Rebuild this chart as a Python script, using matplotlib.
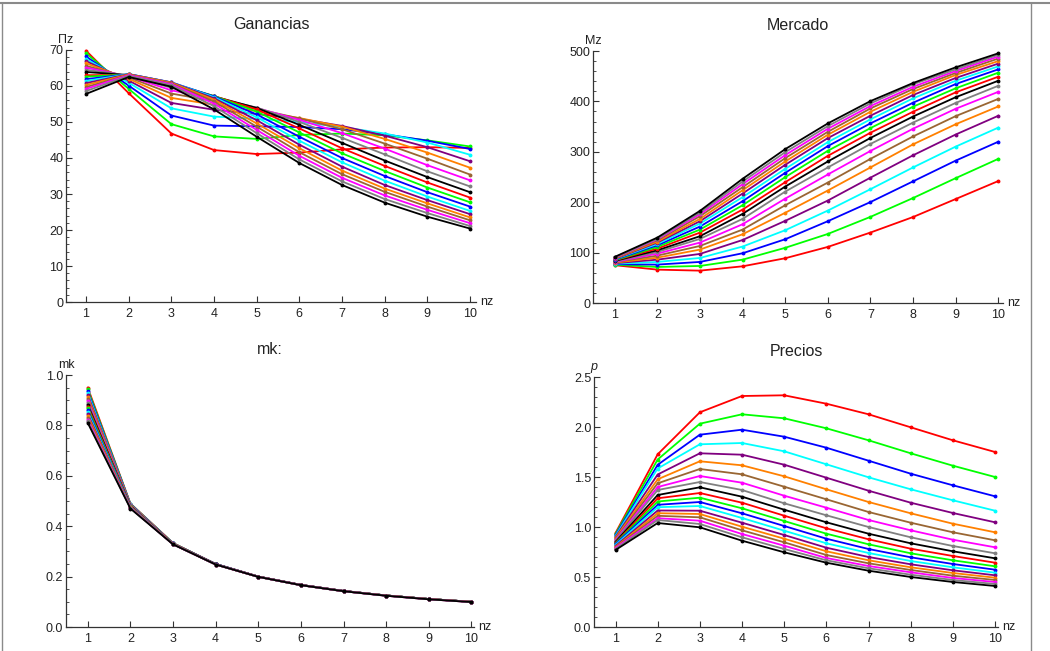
import numpy as np
import matplotlib
matplotlib.use("Agg")
import matplotlib.pyplot as plt
from matplotlib.ticker import MultipleLocator
from matplotlib.lines import Line2D

plt.rcParams['font.family'] = ['Liberation Sans', 'DejaVu Sans']

nz = [1, 2, 3, 4, 5, 6, 7, 8, 9, 10]

colors = ['#ff0000', '#00ff00', '#0000ff', '#00ffff', '#800080',
          '#ff8000', '#996633', '#ff00ff', '#808080', '#000000']

# Ganancias: one row per series (20 series), values for nz = 1..10
ganancias = [
    [69.8, 58.0, 46.8, 42.2, 41.1, 41.5, 42.4, 42.9, 43.0, 42.8],
    [69.1, 59.2, 49.4, 46.0, 45.3, 46.4, 46.8, 46.3, 44.9, 43.2],
    [68.2, 60.1, 51.8, 49.0, 48.8, 48.6, 48.0, 46.6, 44.8, 42.5],
    [67.5, 60.9, 53.8, 51.5, 50.9, 50.0, 48.6, 46.8, 44.3, 40.9],
    [66.9, 61.5, 55.3, 53.4, 52.2, 50.9, 48.9, 46.2, 43.0, 39.1],
    [66.3, 62.0, 56.7, 54.8, 53.0, 51.1, 48.7, 45.3, 41.5, 37.3],
    [65.6, 62.4, 57.9, 55.8, 53.6, 51.0, 48.0, 44.0, 39.8, 35.4],
    [65.1, 62.7, 58.8, 56.4, 53.9, 50.6, 46.9, 42.6, 38.0, 33.8],
    [64.5, 62.9, 59.5, 56.8, 54.0, 50.0, 45.6, 41.0, 36.3, 32.1],
    [63.9, 63.0, 60.1, 57.1, 53.9, 49.2, 44.2, 39.3, 34.7, 30.5],
    [63.0, 63.1, 60.5, 57.2, 53.5, 48.2, 42.7, 37.8, 33.2, 29.0],
    [62.6, 63.2, 60.8, 57.2, 52.9, 47.1, 41.3, 36.4, 31.8, 27.7],
    [61.9, 63.3, 61.0, 57.1, 52.1, 45.9, 40.0, 35.0, 30.5, 26.5],
    [61.4, 63.3, 61.0, 56.9, 51.3, 44.8, 38.8, 33.7, 29.3, 25.3],
    [60.8, 63.3, 61.0, 56.6, 50.5, 43.7, 37.6, 32.5, 28.3, 24.4],
    [60.3, 63.2, 60.9, 56.2, 49.6, 42.7, 36.5, 31.5, 27.4, 23.5],
    [59.7, 63.1, 60.7, 55.7, 48.7, 41.6, 35.5, 30.6, 26.5, 22.7],
    [59.2, 63.0, 60.5, 55.1, 47.8, 40.6, 34.5, 29.6, 25.6, 21.9],
    [58.6, 62.8, 60.2, 54.4, 46.9, 39.6, 33.5, 28.6, 24.7, 21.1],
    [57.8, 62.5, 59.8, 53.5, 45.9, 38.6, 32.5, 27.6, 23.7, 20.4],
]

# Mercado: one row per nz (1..10), values for the 20 series
mercado_by_nz = [
    [75, 76, 77, 78, 79, 80, 81, 81.5, 82.5, 83.5, 84.5, 85, 86, 87, 87.5, 88.5, 89, 90, 90.5, 91.5],
    [66.2, 71.5, 76.2, 81.5, 86, 90, 94, 98, 101.3, 104.6, 108, 111.3, 114.6, 117.2, 119.9, 121.9, 124.5, 126.5, 127.8, 129.8],
    [64.2, 73.5, 81.5, 89.4, 97.4, 106, 113.2, 119.9, 127.2, 132.5, 139.7, 145.7, 151.7, 157.6, 162.3, 166.9, 172.2, 176.2, 179.5, 182.8],
    [72.8, 86, 98.7, 112, 125, 136.4, 145.7, 156.3, 166.9, 176.8, 185.4, 194, 202, 210, 217.2, 223.8, 229.8, 235.8, 241, 246.4],
    [88.8, 109.5, 126.5, 144.4, 163, 179, 194, 207, 221, 231, 239.7, 249.7, 258.3, 266.2, 274.2, 280.8, 287.4, 293.4, 299.3, 305.3],
    [111.3, 137, 162.3, 183.4, 203.3, 223.2, 239, 255, 268.9, 280.8, 292, 302, 311.3, 319.2, 327.2, 333.8, 339.7, 345.7, 351, 356.3],
    [139.8, 170.9, 200.3, 225.8, 248.7, 269, 286, 301.7, 315.6, 327.5, 337.8, 347, 356.4, 364.4, 371.6, 379.5, 386, 390.8, 396, 400.6],
    [170.6, 208.3, 241.4, 269, 293.1, 314.8, 330.5, 345.8, 358, 370, 379.5, 389.5, 397.4, 406, 412.7, 419, 424.6, 429, 434, 436.5],
    [206.3, 247.7, 282.5, 310.3, 334.3, 354.7, 370.8, 385.4, 397, 408.3, 418, 426, 434.5, 441, 446.5, 452.4, 456.4, 460.3, 463.7, 467.6],
    [242, 286, 320, 348, 371.5, 390, 405, 419, 431, 441, 449, 457, 463.6, 469.5, 475, 480, 485, 489, 492.5, 495.4],
]

# mk: one row per nz (1..10), values for the 20 series
mk_by_nz = [
    [0.95, 0.943, 0.935, 0.928, 0.92, 0.913, 0.905, 0.898, 0.89, 0.882, 0.875, 0.868, 0.86, 0.853, 0.845, 0.838, 0.83, 0.823, 0.816, 0.81],
    [0.49, 0.489, 0.488, 0.487, 0.486, 0.485, 0.484, 0.483, 0.482, 0.481, 0.48, 0.479, 0.478, 0.477, 0.476, 0.475, 0.474, 0.473, 0.472, 0.47],
    [0.333, 0.333, 0.332, 0.332, 0.332, 0.331, 0.331, 0.331, 0.330, 0.330, 0.330, 0.330, 0.329, 0.329, 0.329, 0.329, 0.328, 0.328, 0.328, 0.328],
    [0.250, 0.250, 0.250, 0.250, 0.250, 0.249, 0.249, 0.249, 0.249, 0.249, 0.249, 0.249, 0.249, 0.248, 0.248, 0.248, 0.248, 0.248, 0.248, 0.248],
    [0.200, 0.200, 0.200, 0.200, 0.200, 0.200, 0.200, 0.200, 0.200, 0.200, 0.199, 0.199, 0.199, 0.199, 0.199, 0.199, 0.199, 0.199, 0.199, 0.199],
    [0.167, 0.167, 0.167, 0.167, 0.167, 0.167, 0.167, 0.167, 0.167, 0.167, 0.166, 0.166, 0.166, 0.166, 0.166, 0.166, 0.166, 0.166, 0.166, 0.166],
    [0.143, 0.143, 0.143, 0.143, 0.143, 0.143, 0.143, 0.143, 0.143, 0.143, 0.142, 0.142, 0.142, 0.142, 0.142, 0.142, 0.142, 0.142, 0.142, 0.142],
    [0.125, 0.125, 0.125, 0.125, 0.125, 0.125, 0.125, 0.125, 0.125, 0.125, 0.125, 0.125, 0.125, 0.125, 0.125, 0.125, 0.124, 0.124, 0.124, 0.124],
    [0.111, 0.111, 0.111, 0.111, 0.111, 0.111, 0.111, 0.111, 0.111, 0.111, 0.111, 0.111, 0.111, 0.111, 0.111, 0.111, 0.110, 0.110, 0.110, 0.110],
    [0.100, 0.100, 0.100, 0.100, 0.100, 0.100, 0.100, 0.100, 0.100, 0.100, 0.100, 0.100, 0.100, 0.100, 0.100, 0.100, 0.099, 0.099, 0.099, 0.099],
]

# Precios: one row per nz (1..10), values for the 20 series
precios_by_nz = [
    [0.94, 0.93, 0.92, 0.91, 0.90, 0.89, 0.88, 0.87, 0.86, 0.85, 0.84, 0.835, 0.83, 0.82, 0.81, 0.80, 0.795, 0.79, 0.78, 0.77],
    [1.727, 1.675, 1.622, 1.585, 1.525, 1.477, 1.437, 1.40, 1.37, 1.32, 1.287, 1.255, 1.222, 1.198, 1.165, 1.138, 1.112, 1.088, 1.07, 1.04],
    [2.147, 2.033, 1.923, 1.827, 1.737, 1.657, 1.58, 1.51, 1.45, 1.397, 1.34, 1.293, 1.25, 1.21, 1.163, 1.13, 1.097, 1.063, 1.03, 0.997],
    [2.31, 2.127, 1.973, 1.84, 1.723, 1.617, 1.527, 1.443, 1.37, 1.303, 1.243, 1.187, 1.137, 1.09, 1.043, 1.003, 0.967, 0.93, 0.897, 0.863],
    [2.317, 2.087, 1.903, 1.757, 1.623, 1.507, 1.403, 1.313, 1.237, 1.173, 1.113, 1.06, 1.01, 0.963, 0.92, 0.883, 0.847, 0.813, 0.78, 0.747],
    [2.233, 1.987, 1.793, 1.627, 1.493, 1.377, 1.277, 1.193, 1.117, 1.047, 0.987, 0.933, 0.883, 0.837, 0.793, 0.757, 0.72, 0.69, 0.667, 0.643],
    [2.127, 1.867, 1.663, 1.497, 1.363, 1.25, 1.15, 1.07, 1.0, 0.933, 0.877, 0.827, 0.78, 0.74, 0.70, 0.667, 0.637, 0.61, 0.587, 0.563],
    [1.997, 1.737, 1.533, 1.377, 1.243, 1.137, 1.043, 0.967, 0.897, 0.837, 0.783, 0.737, 0.697, 0.66, 0.627, 0.597, 0.57, 0.547, 0.523, 0.50],
    [1.867, 1.613, 1.417, 1.267, 1.14, 1.033, 0.947, 0.873, 0.81, 0.757, 0.71, 0.667, 0.63, 0.597, 0.567, 0.54, 0.513, 0.49, 0.47, 0.45],
    [1.75, 1.50, 1.307, 1.163, 1.047, 0.947, 0.867, 0.797, 0.737, 0.687, 0.643, 0.607, 0.573, 0.543, 0.517, 0.493, 0.47, 0.45, 0.43, 0.41],
]

W, H = 1050, 651
fig = plt.figure(figsize=(W / 100, H / 100), dpi=100)


def px_axes(left, right, top, bottom):
    return fig.add_axes([left / W, 1 - bottom / H, (right - left) / W, (bottom - top) / H])


def style(ax, title, ylab, ymax, major, minor, yfmt, xl, ylab_italic=False):
    ax.set_xlim(xl[0], xl[1])
    ax.set_ylim(0, ymax)
    for s in ['top', 'right']:
        ax.spines[s].set_visible(False)
    for s in ['left', 'bottom']:
        ax.spines[s].set_linewidth(0.9)
        ax.spines[s].set_color('#333333')
    ax.set_xticks(nz)
    ax.yaxis.set_major_locator(MultipleLocator(major))
    ax.yaxis.set_minor_locator(MultipleLocator(minor))
    ax.yaxis.set_major_formatter(plt.FuncFormatter(lambda v, p: yfmt.format(v)))
    ax.tick_params(axis='both', which='major', direction='in', length=4, width=0.8,
                   labelsize=9, colors='#333333', labelcolor='#222222')
    ax.tick_params(axis='y', which='minor', direction='in', length=2.2, width=0.6, colors='#333333')
    ax.tick_params(axis='x', which='minor', bottom=False)
    ax.tick_params(axis='x', pad=4)
    ax.tick_params(axis='y', pad=2)
    ax.set_title(title, fontsize=11.5, color='#222222', pad=15)
    ax.text(0.0, 1.015, ylab, transform=ax.transAxes, ha='center', va='bottom',
            fontsize=9, color='#222222', style='italic' if ylab_italic else 'normal')
    ax.text(1.01, 0.0, 'nz', transform=ax.transAxes, ha='left', va='center',
            fontsize=9, color='#222222')
    ax.patch.set_alpha(0)


def draw(ax, series):
    for i, ys in enumerate(series):
        c = colors[i % len(colors)]
        ax.plot(nz, ys, color=c, lw=1.3, marker='o', ms=1.8, mec=c, mfc=c,
                solid_joinstyle='miter', clip_on=False)


ax1 = px_axes(66, 476, 50, 302)
draw(ax1, ganancias)
style(ax1, 'Ganancias', 'Πz', 70, 10, 2, '{:.0f}', (0.53, 10.14))

ax2 = px_axes(593, 1003, 51, 303)
draw(ax2, np.array(mercado_by_nz).T)
style(ax2, 'Mercado', 'Mz', 500, 100, 20, '{:.0f}', (0.49, 10.11))

ax3 = px_axes(66, 474, 375, 627)
draw(ax3, np.array(mk_by_nz).T)
style(ax3, 'mk:', 'mk', 1.0, 0.2, 0.05, '{:.1f}', (0.49, 10.06))

ax4 = px_axes(594, 998, 377, 627)
draw(ax4, np.array(precios_by_nz).T)
style(ax4, 'Precios', 'p', 2.5, 0.5, 0.1, '{:.1f}', (0.49, 10.07), ylab_italic=True)

# Figure frame lines
fig.add_artist(Line2D([0, 1], [1 - 3 / H, 1 - 3 / H], transform=fig.transFigure,
                      color='#8a8a8a', lw=1.5))
fig.add_artist(Line2D([2 / W, 2 / W], [0, 1 - 3 / H], transform=fig.transFigure,
                      color='#8a8a8a', lw=1.0))
fig.add_artist(Line2D([1031 / W, 1031 / W], [0, 1 - 3 / H], transform=fig.transFigure,
                      color='#8a8a8a', lw=1.0))

fig.savefig('out.png', dpi=100)
